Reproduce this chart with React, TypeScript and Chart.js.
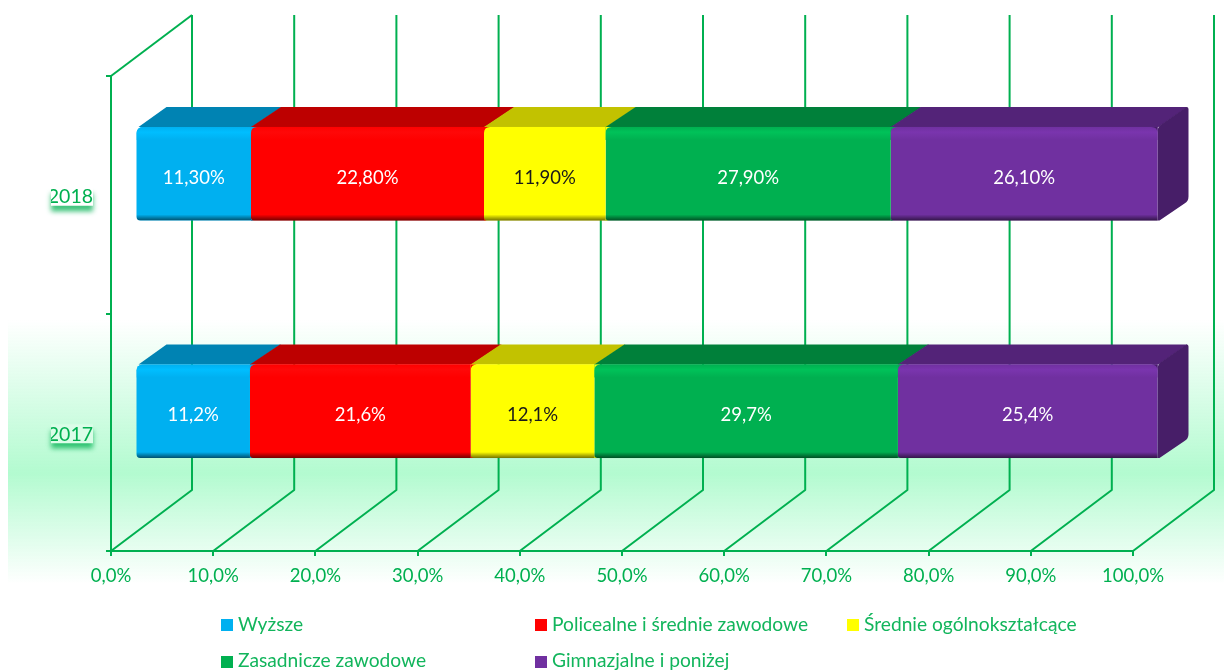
import React, { useEffect, useRef } from "react";
import { Chart, registerables } from "chart.js";

Chart.register(...registerables);

const years = ["2018", "2017"];
const seriesNames = [
  "Wyższe",
  "Policealne i średnie zawodowe",
  "Średnie ogólnokształcące",
  "Zasadnicze zawodowe",
  "Gimnazjalne i poniżej",
];
const wyzsze = [11.3, 11.2];
const policealne = [22.8, 21.6];
const srednie = [11.9, 12.1];
const zasadnicze = [27.9, 29.7];
const gimnazjalne = [26.1, 25.4];
const allSeries = [wyzsze, policealne, srednie, zasadnicze, gimnazjalne];
const labelDecimals = [2, 1];

const frontColors = ["#00B0F0", "#FF0000", "#FFFF00", "#00B050", "#7030A0"];
const topColors = ["#0083B3", "#BD0000", "#C2C200", "#00803A", "#532378"];
const highlightColors = ["#00BEFF", "#FF0808", "#FFFF00", "#00C259", "#7A35AE"];
const labelColors = ["#FFFFFF", "#FFFFFF", "#1a1a1a", "#FFFFFF", "#FFFFFF"];
const sideColor = "#471E68";
const green = "#00B050";
const FONT = "Lato";

const WALL = { dx: 81, dy: -61 };
const FRONT = { dx: 24.5, dy: -21 };
const DEPTH = { dx: 30, dy: -20 };
const RAD = 6;

function barRects(chart: any, di: number) {
  const meta = chart.getDatasetMeta(di);
  return meta.data.map((el: any) => {
    const p = el.getProps(["x", "y", "base", "height"], true);
    return {
      l: Math.min(p.x, p.base) + FRONT.dx,
      r: Math.max(p.x, p.base) + FRONT.dx,
      t: p.y - p.height / 2 + FRONT.dy,
      b: p.y + p.height / 2 + FRONT.dy,
    };
  });
}

function corner(ctx: any, x: number, y: number, sx: number, sy: number, size: number, color: string) {
  ctx.fillStyle = color;
  ctx.beginPath();
  ctx.moveTo(x, y);
  ctx.lineTo(x + sx * size, y);
  ctx.quadraticCurveTo(x, y, x, y + sy * size);
  ctx.closePath();
  ctx.fill();
}

const scenePlugin = {
  id: "scene",
  beforeDraw(chart: any) {
    const { ctx, width } = chart;
    ctx.save();
    const g = ctx.createLinearGradient(0, 320, 0, 584);
    g.addColorStop(0, "rgba(179,251,208,0)");
    g.addColorStop(0.58, "rgba(179,251,208,1)");
    g.addColorStop(1, "rgba(179,251,208,0)");
    ctx.fillStyle = g;
    ctx.fillRect(8, 320, width - 8, 264);

    // shadowed backing plates of the category labels
    const yScale = chart.scales.y;
    years.forEach((_, i) => {
      const cy = yScale.getPixelForTick(i);
      ctx.save();
      ctx.shadowColor = "rgba(0,176,80,0.75)";
      ctx.shadowBlur = 5;
      ctx.shadowOffsetY = 6;
      ctx.fillStyle = i === 0 ? "#FFFFFF" : "#DBFDE8";
      ctx.fillRect(51, cy - 8, 42, 19);
      ctx.restore();
    });
    ctx.restore();
  },
  beforeDatasetsDraw(chart: any) {
    const { ctx, chartArea } = chart;
    const xScale = chart.scales.x;
    const { top, bottom, left } = chartArea;
    ctx.save();
    ctx.strokeStyle = green;
    ctx.lineWidth = 2;
    ctx.lineJoin = "round";
    xScale.ticks.forEach((t: any) => {
      const x = xScale.getPixelForValue(t.value);
      ctx.beginPath();
      ctx.moveTo(x, bottom);
      ctx.lineTo(x + WALL.dx, bottom + WALL.dy);
      ctx.lineTo(x + WALL.dx, top + WALL.dy);
      ctx.stroke();
    });
    ctx.beginPath();
    ctx.moveTo(left, top);
    ctx.lineTo(left + WALL.dx, top + WALL.dy);
    ctx.stroke();
    ctx.restore();

    // top and side faces
    const n = allSeries.length;
    ctx.save();
    for (let i = 0; i < n; i++) {
      barRects(chart, i).forEach((r: any) => {
        ctx.fillStyle = topColors[i];
        ctx.beginPath();
        ctx.moveTo(r.l + (i === 0 ? 2 : 0), r.t);
        ctx.lineTo(r.l + DEPTH.dx, r.t + DEPTH.dy);
        ctx.lineTo(r.r + DEPTH.dx + (i === n - 1 ? 0 : 1), r.t + DEPTH.dy);
        ctx.lineTo(r.r + 1, r.t);
        ctx.closePath();
        ctx.fill();
        if (i === n - 1) {
          ctx.fillStyle = sideColor;
          ctx.beginPath();
          ctx.moveTo(r.r, r.t + 6);
          ctx.quadraticCurveTo(r.r, r.t, r.r + 3, r.t - 2);
          ctx.lineTo(r.r + DEPTH.dx - 1, r.t + DEPTH.dy);
          ctx.quadraticCurveTo(r.r + DEPTH.dx + 1, r.t + DEPTH.dy, r.r + DEPTH.dx + 1, r.t + DEPTH.dy + 2);
          ctx.lineTo(r.r + DEPTH.dx + 1, r.b + DEPTH.dy - 4);
          ctx.quadraticCurveTo(r.r + DEPTH.dx + 1, r.b + DEPTH.dy + 1, r.r + DEPTH.dx - 3, r.b + DEPTH.dy + 3);
          ctx.lineTo(r.r + 2, r.b);
          ctx.lineTo(r.r, r.b);
          ctx.closePath();
          ctx.fill();
        }
      });
    }
    ctx.restore();

    ctx.save();
    ctx.translate(FRONT.dx, FRONT.dy);
  },
  afterDatasetsDraw(chart: any) {
    const { ctx } = chart;
    ctx.restore();

    const n = allSeries.length;
    ctx.save();
    for (let i = 0; i < n; i++) {
      barRects(chart, i).forEach((r: any, c: number) => {
        const w = r.r - r.l;
        ctx.save();
        if (i === 0) {
          ctx.beginPath();
          ctx.roundRect(r.l, r.t, w, r.b - r.t, [RAD, 0, 0, 4]);
          ctx.clip();
        }
        // bright band along the top edge
        const hi = ctx.createLinearGradient(0, r.t, 0, r.t + 13);
        hi.addColorStop(0, frontColors[i]);
        hi.addColorStop(0.4, highlightColors[i]);
        hi.addColorStop(1, frontColors[i]);
        ctx.fillStyle = hi;
        ctx.fillRect(r.l, r.t, w, 13);

        // dark bevel along the bottom edge
        const lo = ctx.createLinearGradient(0, r.b - 6, 0, r.b);
        lo.addColorStop(0, "rgba(0,0,0,0)");
        lo.addColorStop(1, "rgba(0,0,0,0.55)");
        ctx.fillStyle = lo;
        ctx.fillRect(r.l, r.b - 6, w, 6);
        ctx.restore();

        // rounded seam corners show the neighbouring colour
        if (i > 0) {
          corner(ctx, r.l, r.t, 1, 1, RAD, frontColors[i - 1]);
          corner(ctx, r.l, r.b, 1, -1, 3, frontColors[i - 1]);
        }
        if (i === n - 1) {
          corner(ctx, r.r, r.t, -1, 1, RAD, sideColor);
        }

        // value label
        const v = allSeries[i][c];
        const text = v.toFixed(labelDecimals[c]).replace(".", ",") + "%";
        ctx.fillStyle = labelColors[i];
        ctx.font = `18.5px ${FONT}`;
        ctx.textAlign = "center";
        ctx.textBaseline = "middle";
        ctx.fillText(text, (r.l + r.r) / 2, (r.t + r.b) / 2 + 4);
      });
    }

    // legend
    const cols = [221, 535, 847];
    const rows = [625, 662];
    ctx.font = `19.2px ${FONT}`;
    ctx.textAlign = "left";
    ctx.textBaseline = "middle";
    seriesNames.forEach((name, i) => {
      const col = cols[i % 3];
      const row = rows[Math.floor(i / 3)];
      ctx.fillStyle = frontColors[i];
      ctx.fillRect(col, row - 6, 12, 12);
      ctx.fillStyle = "#12B55C";
      ctx.fillText(name, col + 17, row - (i >= 3 ? 1 : 0));
    });
    ctx.restore();
  },
};

export default function App() {
  const ref = useRef<HTMLCanvasElement>(null);
  useEffect(() => {
    if (!ref.current) return;
    const chart = new Chart(ref.current, {
      type: "bar",
      data: {
        labels: years,
        datasets: seriesNames.map((name, i) => ({
          label: name,
          data: allSeries[i],
          backgroundColor: frontColors[i],
          borderWidth: 0,
          borderSkipped: false,
          borderRadius: i === 0 ? { topLeft: RAD, bottomLeft: 4, topRight: 0, bottomRight: 0 } : 0,
          barPercentage: 0.394,
          categoryPercentage: 1,
          clip: false,
        })),
      },
      options: {
        indexAxis: "y",
        responsive: false,
        animation: false,
        maintainAspectRatio: false,
        layout: { padding: { left: 51, right: 91, top: 76, bottom: 80 } },
        plugins: { legend: { display: false }, tooltip: { enabled: false } },
        scales: {
          x: {
            stacked: true,
            min: 0,
            max: 100,
            ticks: {
              stepSize: 10,
              color: green,
              font: { family: FONT, size: 18.5 },
              padding: 9,
              maxRotation: 0,
              callback: (v: any) => Number(v).toFixed(1).replace(".", ",") + "%",
            },
            grid: { drawOnChartArea: false, drawTicks: true, tickLength: 5, color: green, lineWidth: 2 },
            border: { display: true, color: green, width: 2 },
            afterFit: (s: any) => { s.height = 40; },
          },
          y: {
            stacked: true,
            ticks: {
              color: green,
              font: { family: FONT, size: 19.5 },
              padding: 13,
              labelOffset: 2,
            },
            grid: { drawOnChartArea: false, drawTicks: true, tickLength: 5, color: green, lineWidth: 2 },
            border: { display: true, color: green, width: 2 },
            afterFit: (s: any) => { s.width = 60; },
          },
        },
      },
      plugins: [scenePlugin],
    } as any);
    return () => chart.destroy();
  }, []);
  return (
    <canvas
      ref={ref}
      width={1224}
      height={671}
      style={{ position: "absolute", left: 0, top: 0, display: "block", width: 1224, height: 671 }}
    />
  );
}
